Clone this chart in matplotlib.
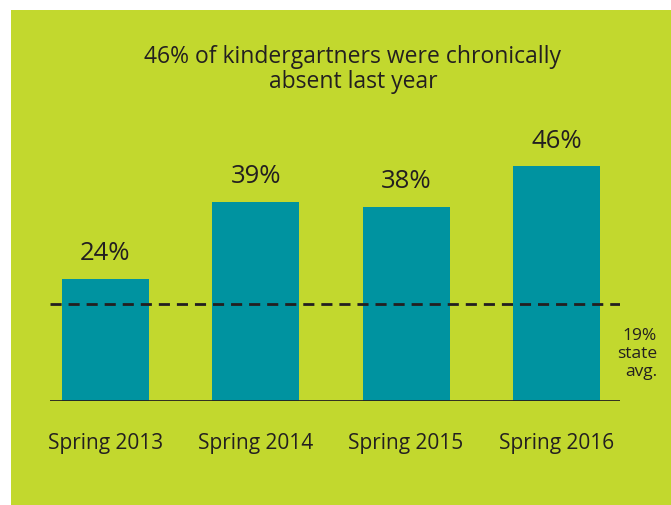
import matplotlib.pyplot as plt
from matplotlib.patches import Rectangle

plt.rcParams['font.family'] = ['Open Sans', 'DejaVu Sans']

# data
seasons = ["Spring 2013", "Spring 2014", "Spring 2015", "Spring 2016"]
pct_absent = [24, 39, 38, 46]
state_avg = 19
title = "46% of kindergartners were chronically\nabsent last year"

GREEN = "#c2d82e"
TEAL = "#0093a0"
INK = "#231f20"

W, H = 671, 506
fig = plt.figure(figsize=(W / 100, H / 100), dpi=100)
fig.patch.set_facecolor("white")
fig.add_artist(Rectangle((11 / W, 0), 1 - 11 / W, 1 - 11 / H,
                         transform=fig.transFigure, facecolor=GREEN,
                         edgecolor="none", zorder=0))

# axes placed in pixel terms: baseline at y=402, spans x 50..620
ax = fig.add_axes([50 / W, (H - 402) / H, 570 / W, 306 / H])
ax.set_facecolor("none")
x = range(len(seasons))
ax.bar(x, pct_absent, width=0.58, color=TEAL, zorder=2)
ax.set_xlim(-0.369, 3.423)
ax.set_ylim(0, 60)

ax.axhline(state_avg, color=INK, lw=2, ls=(0, (4, 2.5)), zorder=3)
ax.axhline(0, color=INK, lw=2, zorder=4)

for i, v in zip(x, pct_absent):
    ax.annotate(f"{v}%", (i, v), xytext=(0, 10), textcoords="offset points",
                ha="center", va="bottom", fontsize=18.5, color=INK)

ax.set_xticks(list(x))
ax.set_xticklabels(seasons, fontsize=15, color=INK)
ax.tick_params(axis="x", length=0, pad=22)
ax.set_yticks([])
for s in ax.spines.values():
    s.set_visible(False)

fig.text(657 / W, 1 - 328 / H, f"{state_avg}%\nstate\navg.", ha="right", va="top",
         fontsize=12.5, color=INK, linespacing=1.15)

fig.text(353 / W, 1 - 45 / H, title, ha="center", va="top",
         fontsize=16.5, color=INK, linespacing=1.05)

fig.savefig("out.png", dpi=100)
